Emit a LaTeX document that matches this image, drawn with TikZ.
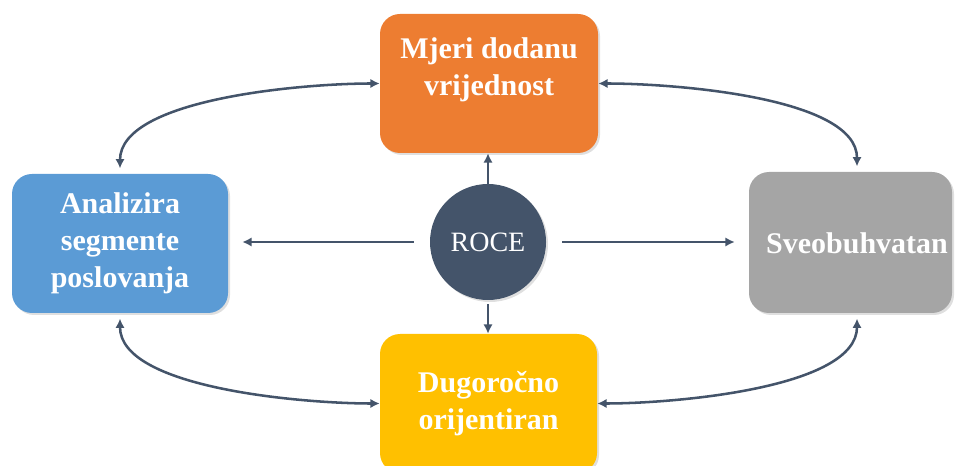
\documentclass[tikz,border=0pt]{standalone}
\usepackage{fontspec}
\setmainfont{Liberation Serif}
\usetikzlibrary{arrows.meta,shadows}

\definecolor{roceOrange}{HTML}{ED7D31}
\definecolor{roceBlue}{HTML}{5B9BD5}
\definecolor{roceGray}{HTML}{A5A5A5}
\definecolor{roceYellow}{HTML}{FFC000}
\definecolor{roceDark}{HTML}{44546A}

\begin{document}
\begin{tikzpicture}[x=0.75pt, y=-0.75pt,
    box/.style={rounded corners=15pt, inner sep=0pt,
        drop shadow={shadow xshift=1.5pt, shadow yshift=-1.5pt, opacity=0.25}},
    boxtext/.style={text=white, align=center,
        font=\bfseries\fontsize{22.5}{27.75}\selectfont},
    link/.style={draw=roceDark, line width=1.9pt, -{Latex[length=7pt,width=7pt]}},
    twoway/.style={link, {Latex[length=7pt,width=7pt]}-{Latex[length=7pt,width=7pt]}, looseness=0.7}]
    \useasboundingbox (0,0) rectangle (956,466);

    % boxes
    \node[box, fill=roceOrange, minimum width=163.5pt, minimum height=104.25pt] (mjeri) at (489,83.5) {};
    \node[boxtext] (mjeriText) at (489,70) {Mjeri dodanu\\vrijednost};
    \node[box, fill=roceBlue, minimum width=162pt, minimum height=104.25pt, boxtext] (analiz) at (120,243.5) {Analizira\\segmente\\poslovanja};
    \node[box, fill=roceGray, minimum width=152.25pt, minimum height=105.75pt] (sveo) at (850.5,242.5) {};
    \node[boxtext] (sveoText) at (857,243) {Sveobuhvatan};
    \node[box, fill=roceYellow, minimum width=162.75pt, minimum height=104.25pt, boxtext] (dugo) at (488.5,403.5) {Dugoročno\\orijentiran};

    % centre
    \node[box, circle, fill=roceDark, minimum size=87pt, text=white,
        font=\fontsize{21}{25}\selectfont] (roce) at (488,242) {ROCE};

    \draw[link] (roce.north) -- (roce.north |- mjeri.south);
    \draw[link, shorten <=3pt] (roce.south) -- (roce.south |- dugo.north);
    \draw[link, shorten <=12pt, shorten >=10.5pt] (roce.west) -- (roce.west -| analiz.east);
    \draw[link, shorten <=12pt, shorten >=10.5pt] (roce.east) -- (roce.east -| sveo.west);

    % outer ring
    \draw[twoway, shorten >=4pt] (mjeri.west) to[out=180, in=90] (analiz.north);
    \draw[twoway, shorten >=4pt] (mjeri.east) to[out=0, in=90] (sveoText |- sveo.north);
    \draw[twoway, shorten <=4pt] (analiz.south) to[out=-90, in=180] (dugo.west);
    \draw[twoway, shorten <=4pt] (sveoText |- sveo.south) to[out=-90, in=0] (dugo.east);
\end{tikzpicture}
\end{document}
